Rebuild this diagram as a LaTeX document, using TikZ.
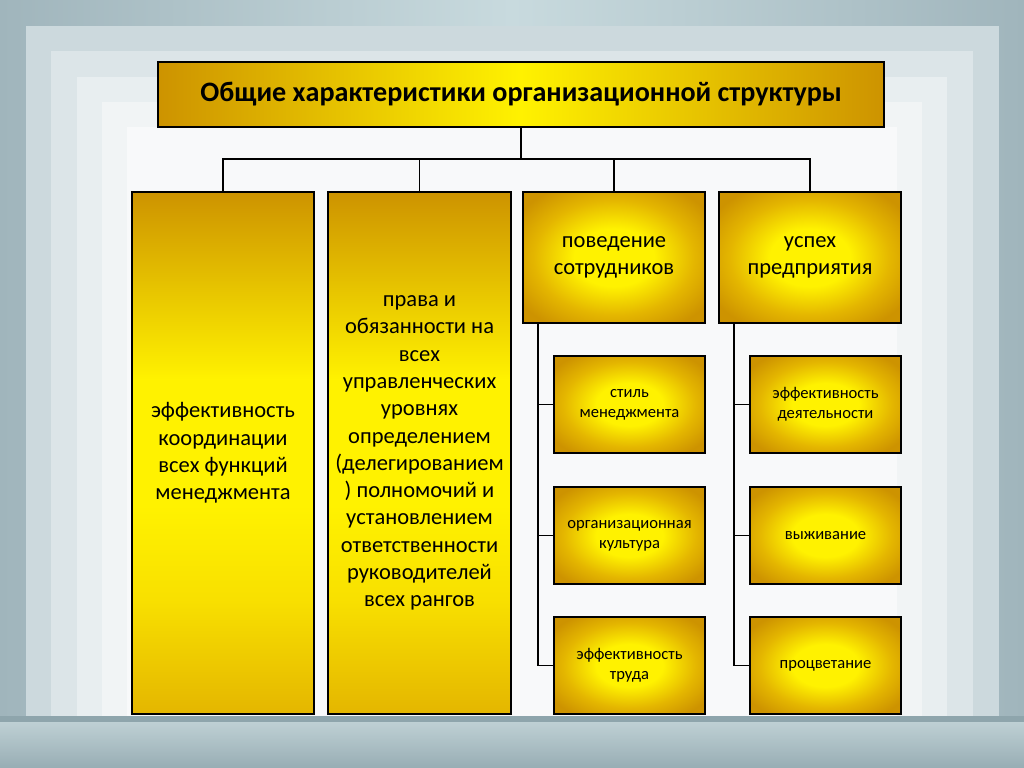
\documentclass[tikz,border=0pt]{standalone}
\usepackage{fontspec}
\setmainfont{Carlito}
\usepackage{xcolor}
\usepackage{tikz}
\usetikzlibrary{shapes,fit,calc,positioning}

\definecolor{goldyel}{RGB}{255,242,0}
\definecolor{goldmid}{RGB}{228,182,0}
\definecolor{golddark}{RGB}{205,147,0}
\definecolor{goldpale}{RGB}{248,224,0}
\definecolor{bgdark}{RGB}{160,181,188}
\definecolor{bglight}{RGB}{200,218,222}
\definecolor{bandA}{RGB}{204,217,221}
\definecolor{bandB}{RGB}{220,229,232}
\definecolor{bandC}{RGB}{232,238,240}
\definecolor{bandD}{RGB}{241,244,245}
\definecolor{bandE}{RGB}{248,249,250}
\definecolor{stripdark}{RGB}{142,165,172}
\definecolor{floortop}{RGB}{190,208,212}
\definecolor{floorbot}{RGB}{152,173,180}

\pgfdeclareradialshading{goldglow}{\pgfpointorigin}{color(0bp)=(goldyel); color(11bp)=(goldyel); color(22bp)=(goldmid); color(31bp)=(golddark); color(50bp)=(golddark)}
\pgfdeclareverticalshading{goldtall}{100bp}{color(0bp)=(goldmid); color(25bp)=(goldmid); color(36bp)=(goldpale); color(45bp)=(goldyel); color(57bp)=(goldyel); color(75bp)=(golddark); color(100bp)=(golddark)}

\tikzset{
  topbox/.style={draw, line width=1.4pt, left color=golddark, right color=golddark, middle color=goldyel, font=\bfseries\fontsize{20}{24}\selectfont},
  tallbox/.style={draw, line width=1.4pt, shade, shading=goldtall, align=center, inner sep=1pt, font=\fontsize{16}{19.4}\selectfont},
  headbox/.style={draw, line width=1.4pt, shade, shading=goldglow, align=center, font=\fontsize{16}{19.4}\selectfont},
  subbox/.style={draw, line width=1.4pt, shade, shading=goldglow, align=center, font=\fontsize{11.8}{14.4}\selectfont, minimum width=3.775cm, minimum height=2.425cm},
  link/.style={line width=0.9pt}
}

\begin{document}
\begin{tikzpicture}[x=0.025cm, y=-0.025cm]

% backdrop
\shade[left color=bgdark, right color=bgdark, middle color=bglight] (0,0) rectangle (1024,768);
\fill[bandA] (26,26) rectangle (999,716);
\fill[bandB] (51,51) rectangle (973,716);
\fill[bandC] (77,77) rectangle (947,716);
\fill[bandD] (102,102) rectangle (922,716);
\fill[bandE] (127,127) rectangle (897,716);
\shade[top color=floortop, bottom color=floorbot] (0,722) rectangle (1024,768);
\fill[stripdark] (0,716) rectangle (1024,722);
\useasboundingbox (0,0) rectangle (1024,768);

\coordinate(O1) at (157,61);
\node[below right=0cm of O1, topbox, minimum width=18.15cm, minimum height=1.625cm](title) {Общие характеристики организационной структуры};

\coordinate(O1) at (131,191);
\node[below right=0cm of O1, tallbox, minimum width=4.55cm, minimum height=13.05cm](col1) {эффективность\\координации\\всех функций\\менеджмента};

\coordinate(O1) at (327,191);
\node[below right=0cm of O1, tallbox, minimum width=4.575cm, minimum height=13.05cm](col2) {права и\\обязанности на\\всех\\управленческих\\уровнях\\определением\\(делегированием\\) полномочий и\\установлением\\ответственности\\руководителей\\всех рангов};

\coordinate(O1) at (522,191);
\node[below right=0cm of O1, headbox, minimum width=4.55cm, minimum height=3.275cm](staff) {поведение\\сотрудников};

\coordinate(O1) at (718,191);
\node[below right=0cm of O1, headbox, minimum width=4.55cm, minimum height=3.275cm](success) {успех\\предприятия};

% under staff
\coordinate(O1) at (553,355);
\node[below right=0cm of O1, subbox](style) {стиль\\менеджмента};
\coordinate(O1) at (553,486);
\node[below right=0cm of O1, subbox](culture) {организационная\\культура};
\coordinate(O1) at (553,616);
\node[below right=0cm of O1, subbox](labour) {эффективность\\труда};

% under success
\coordinate(O1) at (749,355);
\node[below right=0cm of O1, subbox](perf) {эффективность\\деятельности};
\coordinate(O1) at (749,486);
\node[below right=0cm of O1, subbox](survive) {выживание};
\coordinate(O1) at (749,616);
\node[below right=0cm of O1, subbox](thrive) {процветание};

% links
\coordinate(bus) at (522,159);
\draw[link] (title.south) -- (title.south |- bus);
\draw[link] (col1.north) |- (bus) -| (success.north);
\draw[link] (col2.north) -- (col2.north |- bus);
\draw[link] (staff.north) -- (staff.north |- bus);

\coordinate(trunk1) at (538,0);
\draw[link] (trunk1 |- staff.south) |- (labour.west);
\draw[link] (trunk1 |- style.west) -- (style.west);
\draw[link] (trunk1 |- culture.west) -- (culture.west);

\coordinate(trunk2) at (734,0);
\draw[link] (trunk2 |- success.south) |- (thrive.west);
\draw[link] (trunk2 |- perf.west) -- (perf.west);
\draw[link] (trunk2 |- survive.west) -- (survive.west);
\end{tikzpicture}
\end{document}
